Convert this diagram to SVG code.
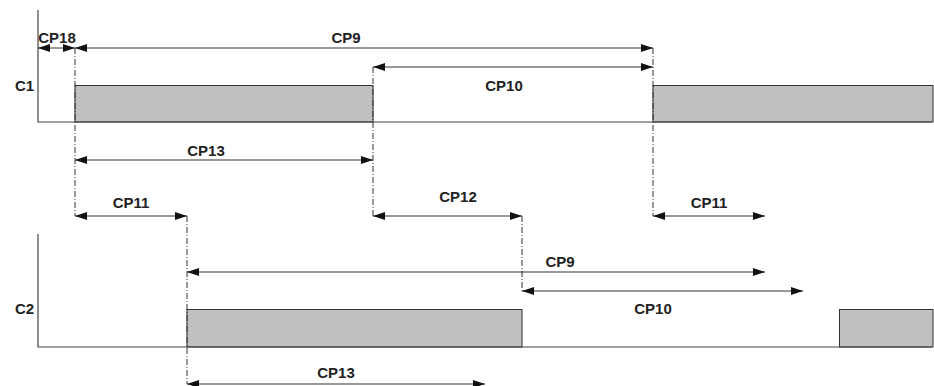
<svg xmlns="http://www.w3.org/2000/svg" width="934" height="386" viewBox="0 0 934 386">
<defs>
<marker id="ah" viewBox="0 0 12 8" refX="12" refY="4" markerWidth="12" markerHeight="8" markerUnits="userSpaceOnUse" orient="auto-start-reverse">
<path d="M0,0 L12,4 L0,8 Z" fill="#111"/>
</marker>
</defs>
<style>
.t{font-family:"Liberation Sans",Arial,sans-serif;font-weight:bold;font-size:15px;fill:#222;text-anchor:middle}
.l{font-family:"Liberation Sans",Arial,sans-serif;font-weight:bold;font-size:15px;fill:#222}
.ax{stroke:#444;stroke-width:1.2;fill:none}
.p{fill:#c0c0c0;stroke:#333;stroke-width:1}
.d{stroke:#333;stroke-width:1;stroke-dasharray:6 2 1 2;fill:none}
.a{stroke:#333;stroke-width:1.2;fill:none;marker-start:url(#ah);marker-end:url(#ah)}
</style>
<rect width="934" height="386" fill="#fff"/>
<g id="c1">
<text class="l" x="15" y="91">C1</text>
<rect class="p" x="75" y="85.5" width="298" height="36.5"/>
<rect class="p" x="653" y="85.5" width="280" height="36.5"/>
<path class="ax" d="M38,10 V122 H932"/>
</g>
<g id="c2">
<text class="l" x="15" y="314">C2</text>
<rect class="p" x="187" y="309.5" width="335" height="37.5"/>
<rect class="p" x="839.5" y="309.5" width="93.5" height="37.5"/>
<path class="ax" d="M38,234 V347 H932"/>
</g>
<g id="connectors">
<path class="d" d="M75,48 V216"/>
<path class="d" d="M373,67 V216"/>
<path class="d" d="M653,48 V216"/>
<path class="d" d="M187,216 V384"/>
<path class="d" d="M522,216 V291"/>
<path class="a" d="M38,48 H75"/>
<path class="a" d="M75,48 H653"/>
<path class="a" d="M373,67 H653"/>
<path class="a" d="M75,160 H373"/>
<path class="a" d="M75,216 H187"/>
<path class="a" d="M373,216 H522"/>
<path class="a" d="M653,216 H765"/>
<path class="a" d="M187,272 H765"/>
<path class="a" d="M522,291 H803"/>
<path class="a" d="M187,384 H485"/>
</g>
<g id="labels">
<text class="t" x="57" y="43">CP18</text>
<text class="t" x="346" y="43">CP9</text>
<text class="t" x="504" y="91">CP10</text>
<text class="t" x="206" y="156">CP13</text>
<text class="t" x="131" y="208">CP11</text>
<text class="t" x="458" y="202">CP12</text>
<text class="t" x="709" y="208">CP11</text>
<text class="t" x="560" y="267">CP9</text>
<text class="t" x="653" y="314">CP10</text>
<text class="t" x="336" y="378">CP13</text>
</g>
</svg>
